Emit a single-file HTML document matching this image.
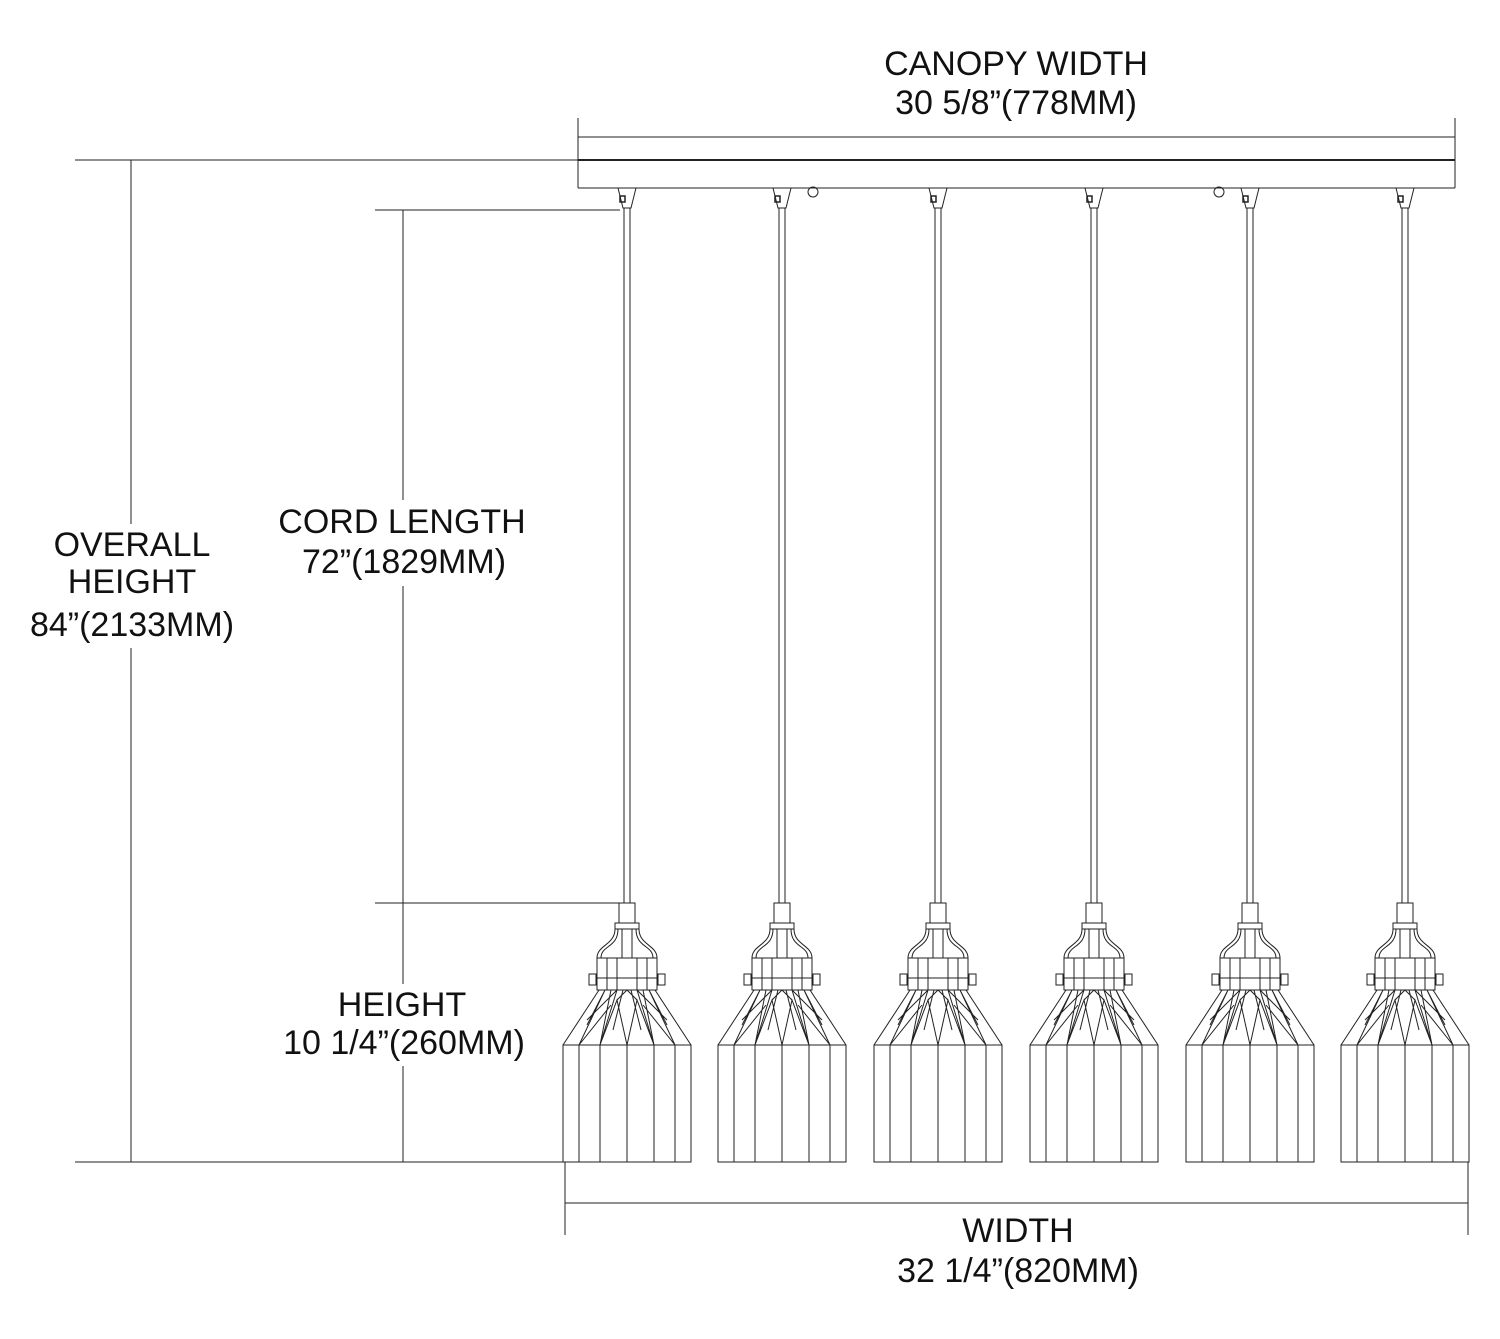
<!DOCTYPE html>
<html><head><style>
html,body{margin:0;padding:0;background:#fff}
svg{display:block}
text{font-family:"Liberation Sans",sans-serif;font-size:34px;fill:#111;text-anchor:middle}
</style></head><body>
<svg width="1500" height="1339" viewBox="0 0 1500 1339" xmlns="http://www.w3.org/2000/svg">
<defs>
<g id="p" fill="none" stroke="#222" stroke-width="1">
  <path d="M-9 188 L-4 208 L4 208 L9 188"/>
  <rect x="-7" y="196" width="5" height="6" stroke-width="1.5"/>
  <line x1="-3" y1="208" x2="-3" y2="903"/>
  <line x1="3" y1="208" x2="3" y2="903"/>
  <rect x="-8" y="903" width="16" height="20"/>
  <rect x="-12" y="923" width="24" height="6"/>
  <line x1="-5" y1="929" x2="-5" y2="958"/><line x1="5" y1="929" x2="5" y2="958"/>
  <path d="M-12 929 C-12 945 -30 945 -30 958"/>
  <path d="M-9 929 C-9 948 -26 945 -26 958"/>
  <path d="M12 929 C12 945 30 945 30 958"/>
  <path d="M9 929 C9 948 26 945 26 958"/>
  <rect x="-30" y="958" width="60" height="32"/>
  <line x1="-30" y1="978" x2="30" y2="978"/>
  <line x1="-20" y1="958" x2="-20" y2="990"/><line x1="-10" y1="958" x2="-10" y2="990"/>
  <line x1="10" y1="958" x2="10" y2="990"/><line x1="20" y1="958" x2="20" y2="990"/>
  <rect x="-38" y="974" width="7" height="11"/><rect x="31" y="974" width="7" height="11"/>
  <rect x="-64" y="1045" width="128" height="117"/>
  <line x1="-48" y1="1045" x2="-48" y2="1162"/><line x1="-27" y1="1045" x2="-27" y2="1162"/>
  <line x1="0" y1="1045" x2="0" y2="1162"/><line x1="27" y1="1045" x2="27" y2="1162"/>
  <line x1="48" y1="1045" x2="48" y2="1162"/>
  <path d="M-64 1045 L-28 990 M64 1045 L28 990 M-48 1045 L-22 990 L-40 1025 M48 1045 L22 990 L40 1025 M-27 1045 L-16 990 M27 1045 L16 990 M-48 1045 L-16 1005 M48 1045 L16 1005 M-27 1045 L-10 990 L-40 1020 M27 1045 L10 990 L40 1020 M0 1045 L-10 1000 L-27 1045 M0 1045 L10 1000 L27 1045 M-10 1000 L0 990 L10 1000 M-14 1030 L-4 990 M14 1030 L4 990"/>
</g>
</defs>
<g stroke="#222" stroke-width="1" fill="none">
  <line x1="578" y1="118" x2="578" y2="188"/>
  <line x1="1455" y1="118" x2="1455" y2="188"/>
  <line x1="578" y1="137" x2="1455" y2="137"/>
  <line x1="578" y1="160" x2="1455" y2="160" stroke-width="2"/>
  <line x1="578" y1="188" x2="1455" y2="188"/>
  <circle cx="813" cy="192" r="5"/><circle cx="1219" cy="192" r="5"/>
  <line x1="75" y1="160" x2="578" y2="160"/>
  <line x1="75" y1="1162" x2="565" y2="1162"/>
  <line x1="131" y1="160" x2="131" y2="524"/>
  <line x1="131" y1="648" x2="131" y2="1162"/>
  <line x1="375" y1="210" x2="620" y2="210"/>
  <line x1="375" y1="903" x2="619" y2="903"/>
  <line x1="403" y1="210" x2="403" y2="500"/>
  <line x1="403" y1="586" x2="403" y2="984"/>
  <line x1="403" y1="1066" x2="403" y2="1162"/>
  <line x1="565" y1="1162" x2="565" y2="1235"/>
  <line x1="1468" y1="1162" x2="1468" y2="1235"/>
  <line x1="565" y1="1203" x2="1468" y2="1203"/>
</g>
<use href="#p" x="627"/><use href="#p" x="782"/><use href="#p" x="938"/>
<use href="#p" x="1094"/><use href="#p" x="1250"/><use href="#p" x="1405"/>
<text x="1016" y="75">CANOPY WIDTH</text>
<text x="1016" y="114">30 5/8”(778MM)</text>
<text x="132" y="556">OVERALL</text>
<text x="132" y="593">HEIGHT</text>
<text x="132" y="636">84”(2133MM)</text>
<text x="402" y="533">CORD LENGTH</text>
<text x="404" y="573">72”(1829MM)</text>
<text x="402" y="1016">HEIGHT</text>
<text x="404" y="1054">10 1/4”(260MM)</text>
<text x="1018" y="1242">WIDTH</text>
<text x="1018" y="1282">32 1/4”(820MM)</text>
</svg>
</body></html>
